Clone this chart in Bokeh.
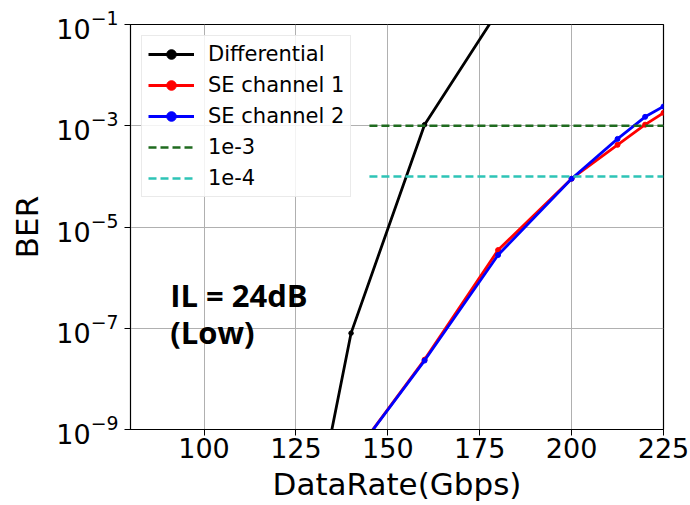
from bokeh.plotting import figure
from bokeh.models import FixedTicker, Legend, LegendItem, LogTickFormatter, Label
from bokeh.embed import file_html
from bokeh.resources import INLINE

# ---- data ----
diff_x = [120, 140, 160, 180]
diff_y = [4e-15, 8e-8, 1.05e-3, 1.85e-1]

se1_x = [140, 160, 180, 200, 212.5, 220, 225]
se1_y = [2.6e-10, 2.4e-8, 3.5e-6, 9e-5, 4.2e-4, 1.05e-3, 1.8e-3]

se2_x = [140, 160, 180, 200, 212.5, 220, 225]
se2_y = [2.6e-10, 2.3e-8, 2.8e-6, 9e-5, 5.5e-4, 1.5e-3, 2.4e-3]

thr_x = [145, 225]
thr3_y = [1e-3, 1e-3]
thr4_y = [1e-4, 1e-4]

x_ticks = [100, 125, 150, 175, 200, 225]
y_ticks = [1e-9, 1e-7, 1e-5, 1e-3, 1e-1]

FONT = "DejaVu Sans"

p = figure(width=690, height=505, x_range=(80, 225), y_range=(1e-9, 1e-1),
           y_axis_type="log", output_backend="svg", toolbar_location=None,
           min_border_left=130, min_border_right=27, min_border_top=24,
           min_border_bottom=76)

p.background_fill_color = "white"
p.border_fill_color = "white"
p.outline_line_color = "black"
p.outline_line_width = 1.2

p.xaxis.ticker = FixedTicker(ticks=x_ticks)
p.yaxis.ticker = FixedTicker(ticks=y_ticks)
p.yaxis.formatter = LogTickFormatter()

for ax in (p.xaxis, p.yaxis):
    ax.axis_line_color = "black"
    ax.major_tick_line_color = "black"
    ax.minor_tick_line_color = None
    ax.major_tick_out = 6
    ax.major_tick_in = 0
    ax.major_label_text_font = FONT
    ax.major_label_text_font_size = "27px"
    ax.major_label_text_color = "black"
    ax.axis_label_text_font = FONT
    ax.axis_label_text_font_size = "31px"
    ax.axis_label_text_font_style = "normal"
    ax.axis_label_text_color = "black"

p.xaxis.axis_label = "DataRate(Gbps)"
p.yaxis.axis_label = "BER"
p.xaxis.major_label_standoff = 2
p.xaxis.axis_label_standoff = 5
p.yaxis.major_label_standoff = 6
p.yaxis.axis_label_standoff = 8

p.xgrid.ticker = FixedTicker(ticks=x_ticks)
p.ygrid.ticker = FixedTicker(ticks=y_ticks)
p.grid.grid_line_color = "#b0b0b0"
p.grid.grid_line_width = 1

# curves
l_diff = p.line(diff_x, diff_y, line_color="black", line_width=2.8)
s_diff = p.scatter(diff_x, diff_y, size=4.5, color="black")
l_se1 = p.line(se1_x, se1_y, line_color="#ff0000", line_width=2.8)
s_se1 = p.scatter(se1_x, se1_y, size=5, color="#ff0000")
l_se2 = p.line(se2_x, se2_y, line_color="#0000ff", line_width=2.8)
s_se2 = p.scatter(se2_x, se2_y, size=5, color="#0000ff")

l_t3 = p.line(thr_x, thr3_y, line_color="#1f6b1f", line_width=2.5, line_dash="8 4")
l_t4 = p.line(thr_x, thr4_y, line_color="#2ec4b6", line_width=2.5, line_dash="8 4")

p.add_layout(Label(x=90.8, y=10 ** -6.35, text="IL = 24dB", text_font="Open Sans",
                   text_font_style="bold", text_font_size="31px", text_color="black",
                   text_baseline="alphabetic"))
p.add_layout(Label(x=90.8, y=10 ** -7.08, text="(Low)", text_font="Open Sans",
                   text_font_style="bold", text_font_size="31px", text_color="black",
                   text_baseline="alphabetic"))

legend = Legend(items=[
    LegendItem(label="Differential", renderers=[l_diff, s_diff]),
    LegendItem(label="SE channel 1", renderers=[l_se1, s_se1]),
    LegendItem(label="SE channel 2", renderers=[l_se2, s_se2]),
    LegendItem(label="1e-3", renderers=[l_t3]),
    LegendItem(label="1e-4", renderers=[l_t4]),
], location="top_left")
legend.margin = 11
legend.padding = 6
legend.spacing = 7
legend.glyph_width = 46
legend.glyph_height = 24
legend.label_height = 24
legend.label_standoff = 14
legend.label_text_font = FONT
legend.label_text_font_size = "21px"
legend.label_text_color = "black"
legend.border_line_color = "#d6d6d6"
legend.border_line_width = 1
legend.background_fill_color = "white"
legend.background_fill_alpha = 0.85
p.add_layout(legend)

open("out.html", "w").write(file_html(p, INLINE))
